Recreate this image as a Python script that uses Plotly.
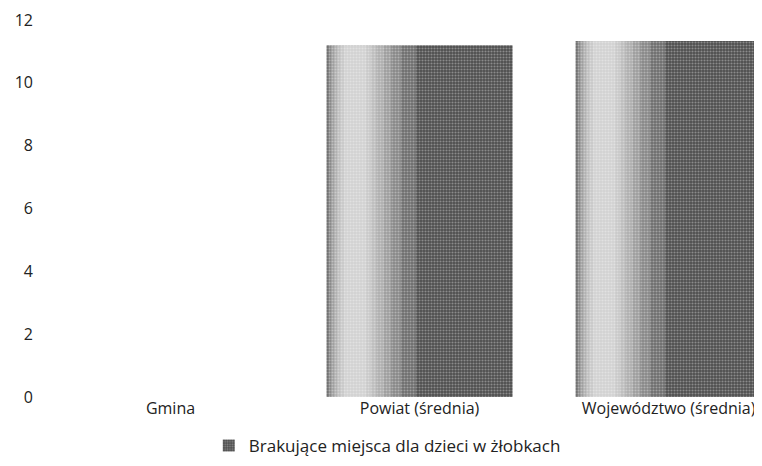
import plotly.graph_objects as go

# dane
categories = ["Gmina", "Powiat (średnia)", "Województwo (średnia)"]
missing_places = [0, 11.2, 11.33]
series_name = "Brakujące miejsca dla dzieci w żłobkach"
y_ticks = [0, 2, 4, 6, 8, 10, 12]

font = "Open Sans, DejaVu Sans, sans-serif"
bar_w = 0.747
left = -bar_w / 2

fig = go.Figure()
# main bar, noisy dark gray
fig.add_trace(go.Bar(
    x=categories, y=missing_places, name=series_name,
    width=bar_w, offset=left,
    marker=dict(color="#4e4e4e", line=dict(width=0),
                pattern=dict(shape=".", fgcolor="#c8c8c8", bgcolor="#4e4e4e",
                             size=3, solidity=0.4)),
))
# soft light band near the left edge, built up from translucent layers
band = [(0.0, 0.36), (0.008, 0.30), (0.018, 0.26), (0.03, 0.23),
        (0.042, 0.20), (0.055, 0.18), (0.07, 0.16)]
for l_off, r_off in band:
    fig.add_trace(go.Bar(
        x=categories, y=missing_places, showlegend=False, hoverinfo="skip",
        width=r_off - l_off, offset=left + l_off, opacity=0.18,
        marker=dict(color="white", line=dict(width=0)),
    ))

# page body has an 8px margin, so the figure is a bit smaller than the window
fig.update_layout(
    width=754, height=458,
    margin=dict(l=38, r=2, t=12, b=58),
    paper_bgcolor="white", plot_bgcolor="white",
    barmode="overlay",
    font=dict(family=font, size=16, color="#222222"),
    showlegend=True,
    legend=dict(orientation="h", x=0.228, xanchor="left", y=-0.082, yanchor="top",
                font=dict(size=17, color="#222222"), itemwidth=30),
    xaxis=dict(range=[-0.5, 2.367], showgrid=False, showline=False, ticks="",
               automargin=False, ticklabeloverflow="allow",
               tickfont=dict(size=16)),
    yaxis=dict(range=[0, 12], tickvals=y_ticks, showgrid=False, zeroline=False,
               showline=False, ticks="", ticklabelstandoff=12, automargin=False,
               ticklabeloverflow="allow", tickfont=dict(size=16)),
)

fig.write_html("out.html")
